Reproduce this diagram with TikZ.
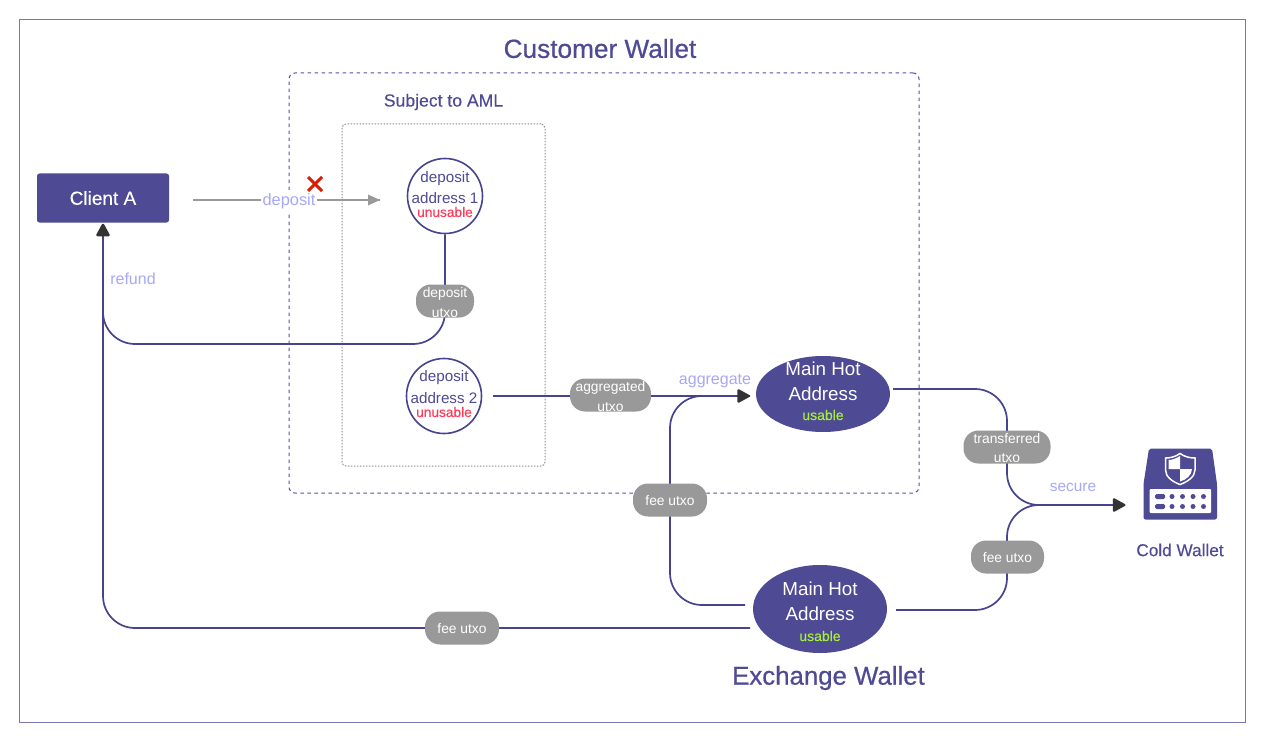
\documentclass[tikz,border=0pt]{standalone}
\usepackage{fontspec}
\setmainfont{Liberation Sans}
\newfontfamily\medf[FakeBold=0.6]{Liberation Sans}
\newfontfamily\semf[FakeBold=0.25]{Liberation Sans}
\usetikzlibrary{arrows.meta,shapes.geometric}
\definecolor{ink}{HTML}{4E4A94}
\definecolor{line}{HTML}{47438F}
\definecolor{lav}{HTML}{A8A8F8}
\definecolor{pillc}{HTML}{999999}
\definecolor{redt}{HTML}{FF3B5C}
\definecolor{lime}{HTML}{A6F03A}
\definecolor{tipc}{HTML}{333333}
\definecolor{dashc}{HTML}{5A4FA8}
\tikzset{
  x=1pt,y=-1pt,
  fs/.style={font=\fontsize{#1}{#1}\selectfont},
  fm/.style={font=\medf\fontsize{#1}{#1}\selectfont},
  fb/.style={font=\semf\fontsize{#1}{#1}\selectfont},
  conn/.style={draw=line,line width=1.7pt,rounded corners=32pt},
  pill/.style={fill=pillc,text=white,rounded corners=15pt,inner sep=0pt,align=center,fs=13.8},
  ptxt/.style={text=white,fs=13.8,inner sep=0pt},
  addr/.style={circle,draw=line,line width=1.6pt,fill=white,minimum size=75pt,inner sep=0pt},
  hot/.style={ellipse,fill=ink,inner sep=0pt},
  lbl/.style={text=lav,inner sep=0pt},
  title/.style={text=ink,inner sep=0pt},
  atip/.style={fill=tipc,draw=tipc,line width=2.5pt,line join=round},
}
\begin{document}
\begin{tikzpicture}
\useasboundingbox (0,0) rectangle (1280,749);
\fill[white] (0,0) rectangle (1280,749);
\node[draw=ink!75,line width=1pt,minimum width=1226pt,minimum height=702pt,inner sep=0pt] (frame) at (632,371) {};
\node[draw=dashc,line width=1pt,dash pattern=on 3.5pt off 3.5pt,rounded corners=6pt,minimum width=630pt,minimum height=420pt,inner sep=0pt] (cust) at (604,283) {};
\node[draw=black!45,line width=1pt,dash pattern=on 1.5pt off 1.5pt,rounded corners=4pt,minimum width=203pt,minimum height=342pt,inner sep=0pt] (aml) at (443.5,295) {};
\node[title,fm=26.2] (ct) at (600,48.5) {Customer Wallet};
\node[title,fb=17.6] (st) at (443.5,102) {Subject to AML};
\node[title,fm=25.8] (et) at (828.5,678) {Exchange Wallet};
\node[title,fb=17.2] (cw) at (1180,550) {Cold Wallet};
% nodes
\node[fill=ink,text=white,rounded corners=2.5pt,minimum width=132pt,minimum height=49pt,inner sep=0pt,fb=19] (client) at (103,198) {Client A};
\node[addr] (d1) at (445,196) {};
\node[addr] (d2) at (444,396) {};
\node[hot,minimum width=134pt,minimum height=76pt] (h1) at (823,394) {};
\node[hot,minimum width=134pt,minimum height=88pt] (h2) at (820,609) {};
% free ends
\coordinate (dep0) at (193,200);
\coordinate (dep1) at (380,200);
\coordinate (c1) at (445,344);
\coordinate (c2) at (103,344);
\coordinate (b0) at (750,628);
\coordinate (b1) at (103,628);
\coordinate (f0) at (745,605);
\coordinate (f1) at (670,605);
\coordinate (f2) at (670,396);
\coordinate (t0) at (893,389);
\coordinate (t1) at (1007,389);
\coordinate (t2) at (1007,505);
\coordinate (u0) at (896,610);
\coordinate (u1) at (1007,610);
\coordinate (se) at (1125,505);
\coordinate (ag) at (750,396);
\coordinate (d2e) at (493,396);
\coordinate (cl) at (103,224);
% connectors
\draw[draw=black!40,line width=1.6pt] (dep0) -- (dep1);
\fill[black!40] (dep1) -- ++(-12,-5.5) -- ++(0,11) -- cycle;
\draw[conn] (d1.south) -- (c1) -- (c2) -- (cl);
\draw[conn] (b0) -- (b1) -- (cl);
\draw[conn,rounded corners=0pt] (d2e) -- (ag);
\draw[conn] (f0) -- (f1) -- (f2) -- (ag);
\draw[conn] (t0) -- (t1) -- (t2) -- (se);
\draw[conn] (u0) -- (u1) -- (t2) -- (se);
\path[atip] (748.5,396) -- (738.5,390.5) -- (738.5,401.5) -- cycle;
\path[atip] (1124,505) -- (1114,499.5) -- (1114,510.5) -- cycle;
\path[atip] (103,225) -- (97.5,235) -- (108.5,235) -- cycle;
% text in addresses
\node[title,fs=15.2] (d1a) at (445,178.5) {deposit};
\node[title,fs=15.2] (d1b) at (445,198) {address 1};
\node[text=redt,fb=13.7,inner sep=0pt] (d1c) at (445,212) {unusable};
\node[title,fs=15.2] (d2a) at (444,377.5) {deposit};
\node[title,fs=15.2] (d2b) at (444,398) {address 2};
\node[text=redt,fb=13.7,inner sep=0pt] (d2c) at (444,412) {unusable};
\node[text=white,fs=18.8,inner sep=0pt] (h1a) at (823,369) {Main Hot};
\node[text=white,fs=18.8,inner sep=0pt] (h1b) at (823,394) {Address};
\node[text=lime,fb=14,inner sep=0pt] (h1c) at (823,415) {usable};
\node[text=white,fs=18.8,inner sep=0pt] (h2a) at (820,589) {Main Hot};
\node[text=white,fs=18.8,inner sep=0pt] (h2b) at (820,614) {Address};
\node[text=lime,fb=14,inner sep=0pt] (h2c) at (820,636) {usable};
% pills
\node[pill,minimum width=58pt,minimum height=33pt] (p1) at (445,301) {};
\node[ptxt] (p1a) at (445,294) {deposit};
\node[ptxt] (p1b) at (445,313) {utxo};
\node[pill,minimum width=81pt,minimum height=33pt] (p2) at (610.5,395) {};
\node[ptxt] (p2a) at (610.5,388) {aggregated};
\node[ptxt] (p2b) at (610.5,407.5) {utxo};
\node[pill,minimum width=74pt,minimum height=33pt] (p3) at (670,500) {};
\node[ptxt] (p3a) at (670,501) {fee utxo};
\node[pill,minimum width=87pt,minimum height=33pt] (p4) at (1007,447) {};
\node[ptxt] (p4a) at (1007,439) {transferred};
\node[ptxt] (p4b) at (1007,458.5) {utxo};
\node[pill,minimum width=73pt,minimum height=33pt] (p5) at (1007.5,557) {};
\node[ptxt] (p5a) at (1007.5,558) {fee utxo};
\node[pill,minimum width=74pt,minimum height=33pt] (p6) at (462,628) {};
\node[ptxt] (p6a) at (462,629) {fee utxo};
% labels
\node[lbl,fill=white,inner xsep=2pt,inner ysep=3pt,fs=16.4] (l1) at (289,201) {deposit};
\node[lbl,fs=16] (l2) at (133,278.5) {refund};
\node[lbl,fs=16] (l3) at (715,380.5) {aggregate};
\node[lbl,fs=15.4] (l4) at (1073,487.5) {secure};
% red cross
\draw[draw={rgb,255:red,216;green,30;blue,6},line width=3pt] (308,177) -- (322,191) (322,177) -- (308,191);
% cold wallet icon
\fill[ink,rounded corners=2pt] (1149,448.5) -- (1212,448.5) -- (1217,484) -- (1217,519.5) -- (1143.5,519.5) -- (1143.5,484) -- cycle;
\fill[white,rounded corners=1pt] (1149.5,489) rectangle (1211,513);
\fill[ink,rounded corners=1.5pt] (1155,494) rectangle (1165,499);
\fill[ink,rounded corners=1.5pt] (1155,504) rectangle (1165,509);
\foreach \px in {1172,1182.5,1193,1203.5}{\fill[ink] (\px,496.5) circle (2.5pt); \fill[ink] (\px,506.5) circle (2.5pt);}
\draw[white,line width=1.5pt,fill=ink] (1180,453.5) .. controls (1175,457) and (1170,458) .. (1165.5,458) -- (1165.5,470) .. controls (1165.5,477) and (1173,482) .. (1180,484.5) .. controls (1187,482) and (1195,477) .. (1195,470) -- (1195,458) .. controls (1190,458) and (1185,457) .. (1180,453.5) -- cycle;
\fill[white] (1180,456) .. controls (1176,458.5) and (1172,460) .. (1168.5,460) -- (1168.5,469) -- (1180,469) -- cycle;
\fill[white] (1180,469) -- (1192,469) .. controls (1192,475) and (1186,480) .. (1180,481.5) -- cycle;
\end{tikzpicture}
\end{document}
